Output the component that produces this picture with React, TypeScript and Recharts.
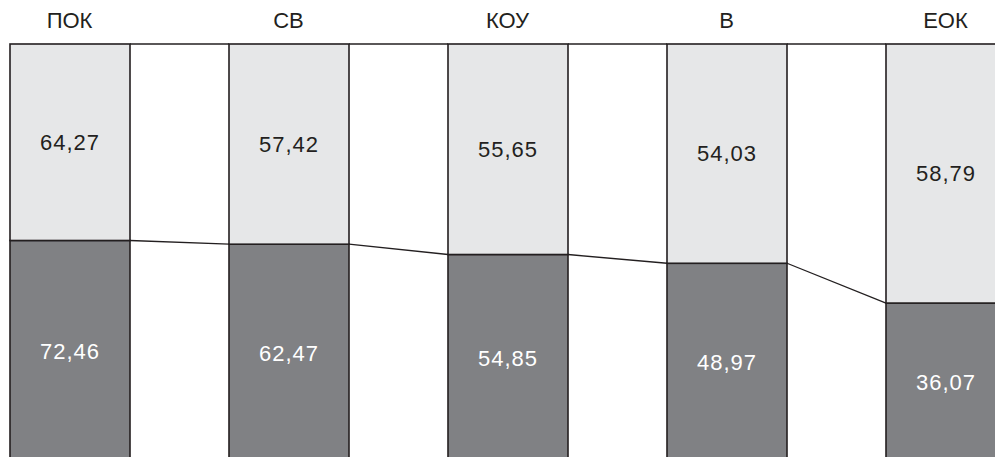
import React from 'react'
import { BarChart, Bar, XAxis, YAxis, LabelList } from 'recharts'

const categories = ['ПОК', 'СВ', 'КОУ', 'В', 'ЕОК']
const lowerValues = [72.46, 62.47, 54.85, 48.97, 36.07]
const upperValues = [64.27, 57.42, 55.65, 54.03, 58.79]

const data = categories.map((name, i) => ({
  name,
  lower: lowerValues[i],
  upper: upperValues[i]
}))

// share of the dark part in each column (the chart is stacked to 100%)
const lowerShare = lowerValues.map((v, i) => v / (v + upperValues[i]))

const INK = '#231f20'
const LIGHT = '#e6e7e8'
const DARK = '#808184'
const FONT = '"Liberation Sans", Arial, sans-serif'

const CHART_W = 1095
const CHART_H = 462
const STEP = CHART_W / categories.length

const fmt = (v: any) => Number(v).toFixed(2).replace('.', ',')

const LowerShape = (props: any) => {
  const { x, y, width, height, index } = props
  const total = height / lowerShare[index]
  const bottom = y + height
  return (
    <g>
      <rect x={x} y={y} width={width} height={height} fill={DARK} stroke={INK} strokeWidth={1.6} />
      {index < categories.length - 1 && (
        <line
          x1={x + width}
          y1={y}
          x2={x + STEP}
          y2={bottom - lowerShare[index + 1] * total}
          stroke={INK}
          strokeWidth={1.3}
        />
      )}
    </g>
  )
}

const UpperShape = (props: any) => {
  const { x, y, width, height, index } = props
  return (
    <g>
      <rect x={x} y={y} width={width} height={height} fill={LIGHT} stroke={INK} strokeWidth={1.6} />
      {index < categories.length - 1 && (
        <line x1={x + width} y1={y} x2={x + STEP} y2={y} stroke={INK} strokeWidth={1.6} />
      )}
    </g>
  )
}

export default function App() {
  return (
    <div
      style={{
        position: 'absolute',
        left: 0,
        top: 0,
        width: 995,
        height: 457,
        overflow: 'hidden',
        background: '#fff'
      }}
    >
      <div style={{ position: 'absolute', left: -40, top: 0 }}>
        <BarChart
          width={CHART_W}
          height={CHART_H}
          data={data}
          stackOffset="expand"
          margin={{ top: 14, right: 0, bottom: 0, left: 0 }}
        >
          <XAxis
            dataKey="name"
            orientation="top"
            height={30}
            axisLine={false}
            tickLine={false}
            tickMargin={10}
            tick={{ fontSize: 22, fill: INK, fontFamily: FONT }}
          />
          <YAxis hide domain={[0, 1]} />
          <Bar dataKey="lower" stackId="s" barSize={120} shape={<LowerShape />} isAnimationActive={false}>
            <LabelList
              dataKey="lower"
              position="center"
              formatter={fmt}
              style={{ fontSize: 22, fill: '#ffffff', fontFamily: FONT, letterSpacing: 1 }}
            />
          </Bar>
          <Bar dataKey="upper" stackId="s" barSize={120} shape={<UpperShape />} isAnimationActive={false}>
            <LabelList
              dataKey="upper"
              position="center"
              formatter={fmt}
              style={{ fontSize: 22, fill: INK, fontFamily: FONT, letterSpacing: 1 }}
            />
          </Bar>
        </BarChart>
      </div>
    </div>
  )
}
